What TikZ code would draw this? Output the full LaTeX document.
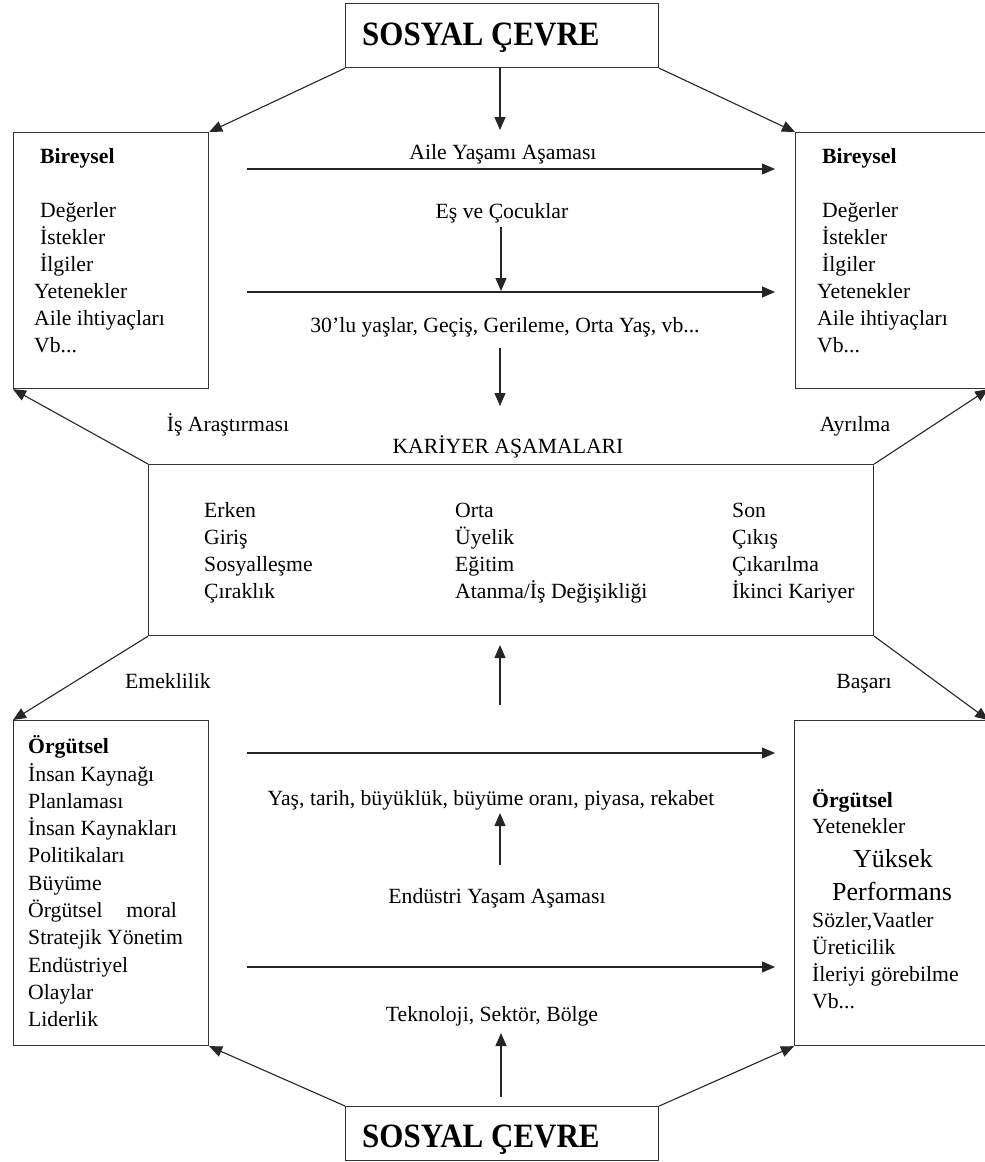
\documentclass[tikz,border=0pt]{standalone}
\usepackage{fontspec}
\setmainfont{Liberation Serif}
\usetikzlibrary{arrows.meta}
\newcommand\bodyf{\fontsize{21.7}{27}\selectfont}
\newcommand\bigf{\fontsize{26}{30}\selectfont}
\newcommand\titlef{\fontsize{31}{34}\selectfont\bfseries}
\newcommand\vbtext{Vb...}
\newcommand\tallt[1]{\scalebox{1}[1.1]{#1}}
\tikzset{
  box/.style={draw=black!80, line width=1.2pt, rectangle, inner sep=0pt, anchor=north west},
  txt/.style={anchor=base west, inner sep=0pt, font=\bodyf},
  ctxt/.style={anchor=base, inner sep=0pt, font=\bodyf},
  link/.style={draw=black!85, line width=1.1pt, -{Triangle[length=13pt,width=11pt]}},
}
\begin{document}
\begin{tikzpicture}[x=1pt,y=-1pt]
\clip (0,0) rectangle (985,1162);
\fill[white] (0,0) rectangle (985,1162);

% boxes
\node[box, minimum width=313pt, minimum height=64pt] (top) at (345,3) {};
\node[box, minimum width=195pt, minimum height=256pt] (tl) at (13,132) {};
\node[box, minimum width=192pt, minimum height=256pt] (tr) at (795,132) {};
\node[box, minimum width=725pt, minimum height=171pt] (mid) at (148,464) {};
\node[box, minimum width=195pt, minimum height=325pt] (bl) at (13,720) {};
\node[box, minimum width=193pt, minimum height=325pt] (br) at (794,720) {};
\node[box, minimum width=313pt, minimum height=54pt] (bot) at (345,1106) {};

% titles
\node[anchor=base west, inner sep=0pt, font=\titlef] (toptxt) at (362,45) {\tallt{SOSYAL ÇEVRE}};
\node[anchor=base west, inner sep=0pt, font=\titlef] (bottxt) at (362,1147) {\tallt{SOSYAL ÇEVRE}};

% top-left block
\node[txt, font=\bodyf\bfseries] (tlh) at (40,163) {Bireysel};
\foreach \t [count=\i] in {Değerler, İstekler, İlgiler}
  \node[txt] (tla\i) at (40,190+27.3*\i) {\t};
\foreach \t [count=\i] in {Yetenekler, Aile ihtiyaçları, \vbtext}
  \node[txt] (tlb\i) at (34,271+27.3*\i) {\t};

% top-right block
\node[txt, font=\bodyf\bfseries] (trh) at (822,163) {Bireysel};
\foreach \t [count=\i] in {Değerler, İstekler, İlgiler}
  \node[txt] (tra\i) at (822,190+27.3*\i) {\t};
\foreach \t [count=\i] in {Yetenekler, Aile ihtiyaçları, \vbtext}
  \node[txt] (trb\i) at (817,271+27.3*\i) {\t};

% centre column labels
\node[ctxt] (aile) at (503,159) {Aile Yaşamı Aşaması};
\node[ctxt] (es) at (502,218) {Eş ve Çocuklar};
\node[ctxt] (otuz) at (505,332) {30'lu yaşlar, Geçiş, Gerileme, Orta Yaş, vb...};
\node[ctxt] (isar) at (228,431) {İş Araştırması};
\node[ctxt] (ayr) at (855,431) {Ayrılma};
\node[ctxt] (kar) at (508,453) {KARİYER AŞAMALARI};
\node[ctxt] (emek) at (168,688) {Emeklilik};
\node[ctxt] (basari) at (864,688) {Başarı};
\node[ctxt] (yas) at (491,805) {Yaş, tarih, büyüklük, büyüme oranı, piyasa, rekabet};
\node[ctxt] (endu) at (497,903) {Endüstri Yaşam Aşaması};
\node[ctxt] (tekno) at (492,1021) {Teknoloji, Sektör, Bölge};

% career stages
\foreach \t [count=\i] in {Erken, Giriş, Sosyalleşme, Çıraklık}
  \node[txt] (ca\i) at (204,490+27*\i) {\t};
\foreach \t [count=\i] in {Orta, Üyelik, Eğitim, Atanma/İş Değişikliği}
  \node[txt] (cb\i) at (455,490+27*\i) {\t};
\foreach \t [count=\i] in {Son, Çıkış, Çıkarılma, İkinci Kariyer}
  \node[txt] (cc\i) at (732,490+27*\i) {\t};

% bottom-left block
\node[txt, font=\bodyf\bfseries] (blh) at (28,753) {Örgütsel};
\foreach \t [count=\i] in {İnsan Kaynağı, Planlaması, İnsan Kaynakları, Politikaları, Büyüme, {Örgütsel\hspace{1.1em}moral}, Stratejik Yönetim, Endüstriyel, Olaylar, Liderlik}
  \node[txt] (bl\i) at (28,753.7+27.3*\i) {\t};

% bottom-right block
\node[txt, font=\bodyf\bfseries] (brh) at (812,807) {Örgütsel};
\node[txt] (br1) at (812,833) {Yetenekler};
\node[txt, font=\bigf] (br2) at (853,867) {Yüksek};
\node[txt, font=\bigf] (br3) at (832,900) {Performans};
\node[txt] (br4) at (812,927) {Sözler,Vaatler};
\node[txt] (br5) at (812,954) {Üreticilik};
\node[txt] (br6) at (812,981) {İleriyi görebilme};
\node[txt] (br7) at (812,1008) {Vb...};

% coordinates for free arrows
\coordinate (h1a) at (247,169);  \coordinate (h1b) at (775,169);
\coordinate (h2a) at (247,292);  \coordinate (h2b) at (775,292);
\coordinate (h3a) at (247,753);  \coordinate (h3b) at (775,753);
\coordinate (h4a) at (247,967);  \coordinate (h4b) at (775,967);
\coordinate (v1a) at (500,67);   \coordinate (v1b) at (500,130);
\coordinate (v2a) at (501,227);  \coordinate (v2b) at (501,291);
\coordinate (v3a) at (500,348);  \coordinate (v3b) at (500,406);
\coordinate (v4a) at (500,705);  \coordinate (v4b) at (500,645);
\coordinate (v5a) at (500,865);  \coordinate (v5b) at (500,813);
\coordinate (v6a) at (501,1097); \coordinate (v6b) at (501,1033);

\foreach \n in {h1,h2,h3,h4,v1,v2,v3,v4,v5,v6}
  \draw[link] (\n a) -- (\n b);

% diagonal connectors
\draw[link] (top.south west) -- (tl.north east);
\draw[link] (top.south east) -- (tr.north west);
\draw[link] (mid.north west) -- (tl.south west);
\draw[link] (mid.north east) -- (tr.south east);
\draw[link] (mid.south west) -- (bl.north west);
\draw[link] (mid.south east) -- (br.north east);
\draw[link] (bot.north west) -- (bl.south east);
\draw[link] (bot.north east) -- (br.south west);
\end{tikzpicture}
\end{document}
